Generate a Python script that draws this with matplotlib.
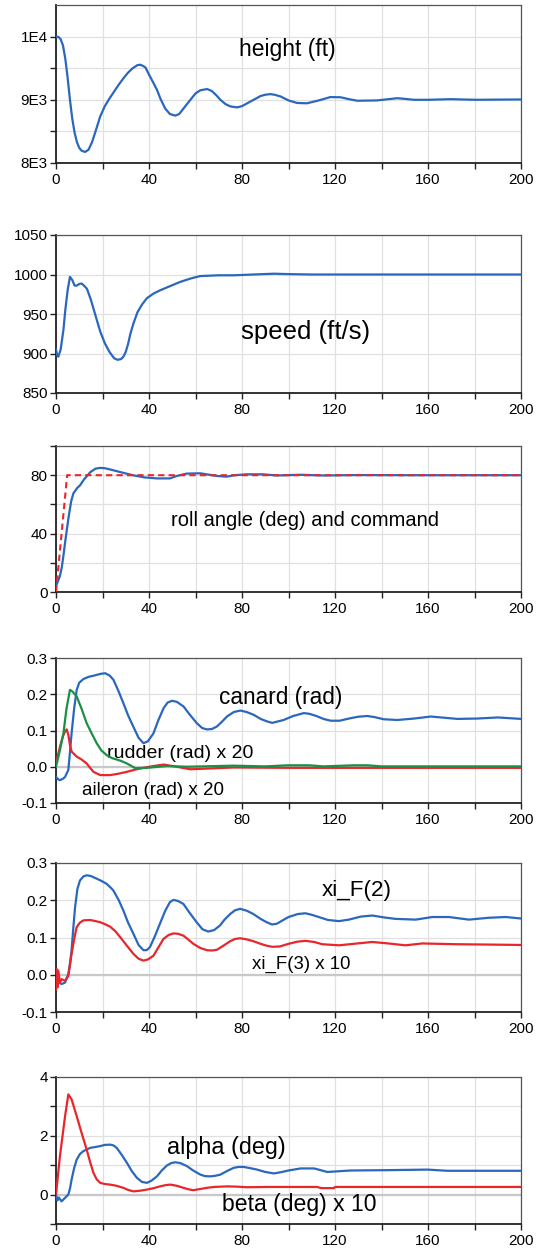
import matplotlib
matplotlib.use("Agg")
import matplotlib.pyplot as plt
from matplotlib.ticker import MultipleLocator, FixedLocator, FixedFormatter, FormatStrFormatter

plt.rcParams['font.family'] = ['Liberation Sans', 'DejaVu Sans']

# ---------------- data ----------------
t_height = [0, 1, 2, 3, 4, 5, 6, 7, 8, 9, 10, 11, 12.5, 14, 15.5, 17, 19, 21, 23, 25, 27, 29, 31, 33, 35,
            36.2, 37.5, 38.5, 40, 42, 43.4, 45, 47, 49, 51.3, 53, 55, 57.8, 60, 62, 65, 67, 69, 70.7, 73, 75,
            77.9, 80, 82, 85, 88, 90, 92.2, 94, 96.6, 100, 103.7, 108, 113, 118, 122.4, 126, 129.6, 138,
            143, 146.8, 150, 154, 160, 169.8, 175, 181, 190, 200]
height = [10000, 9995, 9960, 9860, 9650, 9350, 9000, 8700, 8480, 8330, 8240, 8195, 8175, 8210, 8330, 8500,
          8735, 8900, 9020, 9130, 9240, 9340, 9430, 9500, 9548, 9555, 9535, 9510, 9400, 9260, 9160, 9010,
          8860, 8775, 8750, 8775, 8870, 9000, 9100, 9150, 9170, 9140, 9070, 9000, 8930, 8895, 8880, 8900,
          8940, 9000, 9060, 9080, 9090, 9080, 9053, 8990, 8950, 8945, 8990, 9043, 9040, 9010, 8985, 8990,
          9010, 9025, 9015, 9000, 9000, 9010, 9005, 9000, 9003, 9005]

t_speed = [0, 0.5, 1, 2, 3.2, 4, 5, 6, 7, 8, 9, 10, 11, 12, 13.3, 15, 17, 19, 21, 23, 25, 26.5, 28, 29, 30,
           31, 32, 33.3, 35, 37, 39.1, 42, 44.8, 48, 53.4, 58, 62, 70, 76.4, 85, 93.7, 100, 110, 130, 160,
           200]
speed = [905, 898, 896, 905, 930, 955, 980, 997, 993, 986, 986, 988, 988.6, 986, 982, 968, 948, 928, 913,
         902, 894, 892, 893, 896, 902, 912, 925, 938, 952, 962, 970, 976, 980, 984, 990.6, 995, 998, 999,
         999, 1000, 1001, 1000.5, 1000, 1000, 1000, 1000]

t_roll = [0, 0.5, 1.7, 2.5, 3.2, 4, 5.3, 6.5, 7.5, 9, 10.3, 12, 14.7, 17, 19, 21, 24.6, 28, 33, 38, 43.4,
          49, 52, 56.2, 62, 66, 69, 73.3, 77, 81.9, 89, 95, 105, 115, 130, 150, 170, 200]
roll = [4, 6, 11, 17, 25, 35, 50, 62, 67.6, 71, 73, 77, 82, 84.5, 85, 84.8, 83.4, 82, 80, 78.5, 77.8,
        77.8, 79.5, 81.1, 81.3, 80.3, 79.5, 79, 80, 80.6, 80.6, 79.8, 80.3, 79.8, 80.1, 80, 80, 80]
t_roll_cmd = [0, 4.8, 200]
roll_cmd = [0, 80, 80]

t_canard = [0, 1, 1.7, 3, 3.9, 5.3, 6, 6.7, 7.8, 8.9, 10, 11.8, 14, 16.1, 19, 21.1, 23, 24.7, 26.8, 29,
            31, 33.3, 35.5, 37.6, 39.5, 41.9, 44, 46.3, 48, 49.9, 52, 54.9, 57.5, 60.6, 62.8, 64.9, 67,
            69.2, 71.5, 73.6, 76.5, 79.3, 82, 85.1, 88, 90.8, 93, 97.9, 102, 106.6, 109, 112, 115, 118.1,
            122, 126.7, 130, 133.9, 137, 141, 146.8, 154, 161.2, 172.7, 181.3, 190, 200]
canard = [-0.028, -0.035, -0.037, -0.033, -0.028, -0.009, 0.04, 0.092, 0.16, 0.212, 0.232, 0.242, 0.248,
          0.251, 0.256, 0.258, 0.252, 0.24, 0.21, 0.175, 0.142, 0.11, 0.08, 0.065, 0.07, 0.092, 0.128,
          0.162, 0.177, 0.182, 0.179, 0.166, 0.144, 0.12, 0.107, 0.103, 0.104, 0.111, 0.125, 0.139, 0.151,
          0.155, 0.151, 0.143, 0.132, 0.125, 0.121, 0.129, 0.14, 0.148, 0.146, 0.14, 0.132, 0.127, 0.127,
          0.134, 0.138, 0.14, 0.137, 0.131, 0.129, 0.133, 0.1385, 0.132, 0.133, 0.136, 0.132]

t_rudder = [0, 1.5, 3.2, 4.5, 6, 7, 8.9, 11, 13.2, 15.5, 17.5, 19.5, 21.8, 24, 26.1, 28, 30.5, 32.5, 34.1,
            39.1, 47.7, 56.3, 76.4, 90, 99.6, 108.9, 115, 128, 134, 140, 200]
rudder = [0, 0.04, 0.092, 0.16, 0.212, 0.208, 0.194, 0.16, 0.12, 0.09, 0.065, 0.045, 0.032, 0.024, 0.02,
          0.016, 0.009, 0.002, -0.004, -0.003, 0.002, 0.0, 0.003, 0.001, 0.004, 0.004, 0.001, 0.004, 0.004,
          0.001, 0.001]

t_aileron = [0, 1.7, 3, 3.9, 4.6, 5.3, 6, 6.7, 8.9, 11, 13.2, 14.8, 16.1, 19, 23.3, 27, 30.5, 34, 37.6,
             42, 46.3, 52, 57.8, 64.9, 76.4, 100, 200]
aileron = [0.009, 0.055, 0.085, 0.097, 0.103, 0.088, 0.06, 0.042, 0.028, 0.02, 0.009, -0.004, -0.014,
           -0.023, -0.023, -0.019, -0.014, -0.008, -0.003, 0.002, 0.006, 0.0, -0.007, -0.005, -0.002,
           -0.003, -0.003]

t_xi2 = [0, 1, 2.4, 3.9, 5.3, 6, 6.7, 7.5, 8.2, 9.2, 10.3, 11.8, 13.2, 15, 17.5, 19.5, 21.8, 23.5, 24.7,
         27, 29, 31, 33.3, 35.5, 37.6, 39, 40.4, 42.5, 44.7, 47, 49, 50.5, 52.5, 54.8, 57.5, 60.5, 63,
         65.5, 68, 70.5, 72.5, 74.9, 77, 79.2, 82, 84.9, 88, 90.6, 92.9, 95, 97.2, 100, 104, 107.3, 110,
         113, 117, 121.7, 126, 131, 136, 141, 146, 154.7, 161.9, 169, 177.6, 186.2, 193.4, 200]
xi2 = [-0.016, -0.02, -0.025, -0.021, 0.002, 0.03, 0.065, 0.13, 0.181, 0.23, 0.253, 0.264, 0.267, 0.265,
       0.258, 0.252, 0.244, 0.234, 0.226, 0.2, 0.172, 0.14, 0.11, 0.08, 0.066, 0.066, 0.074, 0.103, 0.137,
       0.172, 0.195, 0.201, 0.198, 0.19, 0.166, 0.141, 0.122, 0.116, 0.12, 0.132, 0.148, 0.163, 0.173,
       0.177, 0.172, 0.163, 0.15, 0.141, 0.135, 0.137, 0.145, 0.155, 0.163, 0.165, 0.161, 0.155, 0.147,
       0.144, 0.148, 0.156, 0.159, 0.154, 0.15, 0.148, 0.155, 0.155, 0.148, 0.153, 0.155, 0.151]

t_xi3 = [0, 0.3, 0.6, 1.0, 1.7, 2.4, 3.9, 5.3, 6, 6.7, 7.8, 8.9, 10.3, 11.8, 14.7, 17, 19, 21, 23.3,
         25.5, 27.6, 30.5, 33.3, 35.5, 37.6, 39.5, 41.9, 44, 46.2, 48.5, 50.5, 52.5, 54.8, 57, 59.1, 62,
         64.9, 67, 69.2, 72, 74.9, 77, 79.2, 82, 84.9, 88, 90.6, 93, 96.3, 100, 104, 107.3, 111, 114.5,
         121.7, 128, 136, 143, 150.3, 157.5, 171.9, 186.2, 200]
xi3 = [-0.04, 0.015, -0.034, 0.011, -0.021, -0.012, -0.016, -0.003, 0.025, 0.056, 0.095, 0.128, 0.14,
       0.146, 0.147, 0.144, 0.141, 0.136, 0.129, 0.117, 0.101, 0.078, 0.056, 0.043, 0.038, 0.041, 0.051,
       0.073, 0.096, 0.107, 0.111, 0.11, 0.105, 0.094, 0.083, 0.072, 0.066, 0.065, 0.067, 0.078, 0.09,
       0.096, 0.098, 0.095, 0.09, 0.083, 0.078, 0.075, 0.076, 0.083, 0.089, 0.091, 0.088, 0.082, 0.079,
       0.083, 0.088, 0.084, 0.079, 0.084, 0.082, 0.081, 0.08]

t_alpha = [0, 0.6, 1.2, 2.4, 3.9, 5.3, 6, 6.7, 7.8, 8.9, 10.3, 11.8, 14.7, 17, 19, 21, 23.3, 24.8, 26.1,
           28.3, 30.5, 32.6, 34.8, 37, 39.1, 41, 43.4, 45.5, 47.7, 49.5, 51.3, 53.5, 56.3, 59, 62.1, 64,
           66.4, 68.5, 70.7, 73.5, 76.4, 78.5, 80.8, 83.5, 86.5, 90, 93.7, 96.6, 100, 105.2, 111, 116.7,
           126.8, 141.2, 159.8, 168.4, 200]
alpha = [0, -0.2, -0.1, -0.23, -0.11, 0, 0.2, 0.51, 0.9, 1.19, 1.38, 1.48, 1.59, 1.62, 1.65, 1.69, 1.7,
         1.67, 1.59, 1.35, 1.08, 0.8, 0.57, 0.43, 0.4, 0.47, 0.62, 0.82, 0.99, 1.07, 1.1, 1.07, 0.97, 0.82,
         0.68, 0.63, 0.62, 0.64, 0.68, 0.8, 0.91, 0.94, 0.94, 0.9, 0.85, 0.77, 0.72, 0.76, 0.82, 0.89,
         0.89, 0.77, 0.82, 0.83, 0.85, 0.81, 0.81]

t_beta = [0, 1.7, 3.9, 5.3, 6.7, 8.9, 11, 13.2, 14.7, 16.1, 17.5, 19, 21, 23.3, 26, 29, 31, 33.3, 36,
          39.1, 42, 44.8, 47, 49.1, 52, 54.8, 57, 59.1, 62, 64.9, 68, 73.5, 78, 82.2, 90.8, 112.4, 114,
          119.6, 120, 200]
beta = [0, 1.31, 2.67, 3.41, 3.24, 2.67, 2.1, 1.53, 1.1, 0.74, 0.52, 0.4, 0.36, 0.34, 0.3, 0.23, 0.16,
        0.11, 0.13, 0.17, 0.22, 0.28, 0.32, 0.34, 0.3, 0.23, 0.18, 0.15, 0.19, 0.23, 0.26, 0.28, 0.27,
        0.25, 0.26, 0.26, 0.22, 0.22, 0.26, 0.26]

x_ticks = [0, 40, 80, 120, 160, 200]

BLUE = '#2a67bd'
RED = '#e8262b'
GREEN = '#1b8f45'

# ---------------- figure ----------------
W, H = 542, 1253
fig = plt.figure(figsize=(W / 100, H / 100), dpi=100)

LEFT, RIGHT = 56, 521
panels = [(5, 163), (235, 393), (446, 592), (658, 803), (863, 1012), (1077, 1224)]


def make_ax(top, bottom):
    ax = fig.add_axes([LEFT / W, 1 - bottom / H, (RIGHT - LEFT) / W, (bottom - top) / H])
    ax.set_xlim(0, 200)
    ax.xaxis.set_major_locator(FixedLocator(x_ticks))
    ax.xaxis.set_minor_locator(MultipleLocator(20))
    ax.grid(True, which='both', color='#e0e0e0', lw=0.9, zorder=0)
    ax.set_axisbelow(True)
    for s in ['top', 'right']:
        ax.spines[s].set_color('#555555')
        ax.spines[s].set_linewidth(0.9)
    for s in ['left', 'bottom']:
        ax.spines[s].set_color('#222222')
        ax.spines[s].set_linewidth(1.3)
    ax.tick_params(which='both', direction='out', length=4, width=1, color='#222222',
                   labelsize=11, pad=2)
    ax.tick_params(axis='x', pad=3)
    return ax


# 1 height
ax = make_ax(*panels[0])
ax.plot(t_height, height, color=BLUE, lw=1.6, zorder=3)
ax.set_ylim(8000, 10500)
ax.yaxis.set_major_locator(FixedLocator([8000, 9000, 10000]))
ax.yaxis.set_major_formatter(FixedFormatter(['8E3', '9E3', '1E4']))
ax.yaxis.set_minor_locator(FixedLocator([8500, 9500]))
ax.text(99.6, 9794, 'height (ft)', fontsize=16.5, ha='center', va='center')

# 2 speed
ax = make_ax(*panels[1])
ax.plot(t_speed, speed, color=BLUE, lw=1.6, zorder=3)
ax.set_ylim(850, 1050)
ax.yaxis.set_major_locator(MultipleLocator(50))
ax.text(107.3, 927, 'speed (ft/s)', fontsize=18.5, ha='center', va='center')

# 3 roll
ax = make_ax(*panels[2])
ax.plot(t_roll, roll, color=BLUE, lw=1.6, zorder=3)
ax.plot(t_roll_cmd, roll_cmd, color=RED, lw=1.5, ls=(0, (3, 2)), zorder=4)
ax.set_ylim(0, 100)
ax.yaxis.set_major_locator(FixedLocator([0, 40, 80]))
ax.yaxis.set_minor_locator(FixedLocator([20, 60, 100]))
ax.text(107, 48.9, 'roll angle (deg) and command', fontsize=14.5, ha='center', va='center')

# 4 canard / rudder / aileron
ax = make_ax(*panels[3])
ax.axhline(0, color='#c8c8c8', lw=1.6, zorder=1)
ax.plot(t_canard, canard, color=BLUE, lw=1.6, zorder=3)
ax.plot(t_aileron, aileron, color=RED, lw=1.6, zorder=3)
ax.plot(t_rudder, rudder, color=GREEN, lw=1.6, zorder=4)
ax.set_ylim(-0.1, 0.3)
ax.yaxis.set_major_locator(MultipleLocator(0.1))
ax.yaxis.set_major_formatter(FormatStrFormatter('%.1f'))
ax.text(96.5, 0.19, 'canard (rad)', fontsize=16.3, ha='center', va='center')
ax.text(53.4, 0.037, 'rudder (rad) x 20', fontsize=14, ha='center', va='center')
ax.text(41.8, -0.066, 'aileron (rad) x 20', fontsize=13.5, ha='center', va='center')

# 5 xi_F
ax = make_ax(*panels[4])
ax.axhline(0, color='#c8c8c8', lw=1.6, zorder=1)
ax.plot(t_xi2, xi2, color=BLUE, lw=1.6, zorder=3)
ax.plot(t_xi3, xi3, color=RED, lw=1.6, zorder=3)
ax.set_ylim(-0.1, 0.3)
ax.yaxis.set_major_locator(MultipleLocator(0.1))
ax.yaxis.set_major_formatter(FormatStrFormatter('%.1f'))
ax.text(129.3, 0.227, 'xi_F(2)', fontsize=16.2, ha='center', va='center')
ax.text(105.4, 0.027, 'xi_F(3) x 10', fontsize=13.4, ha='center', va='center')

# 6 alpha / beta
ax = make_ax(*panels[5])
ax.axhline(0, color='#c8c8c8', lw=1.6, zorder=1)
ax.plot(t_alpha, alpha, color=BLUE, lw=1.6, zorder=3)
ax.plot(t_beta, beta, color=RED, lw=1.6, zorder=3)
ax.set_ylim(-1, 4)
ax.yaxis.set_major_locator(FixedLocator([0, 2, 4]))
ax.yaxis.set_minor_locator(FixedLocator([-1, 1, 3]))
ax.text(73.2, 1.61, 'alpha (deg)', fontsize=16.8, ha='center', va='center')
ax.text(104.8, -0.34, 'beta (deg) x 10', fontsize=16.6, ha='center', va='center')

fig.savefig('out.png', dpi=100)
